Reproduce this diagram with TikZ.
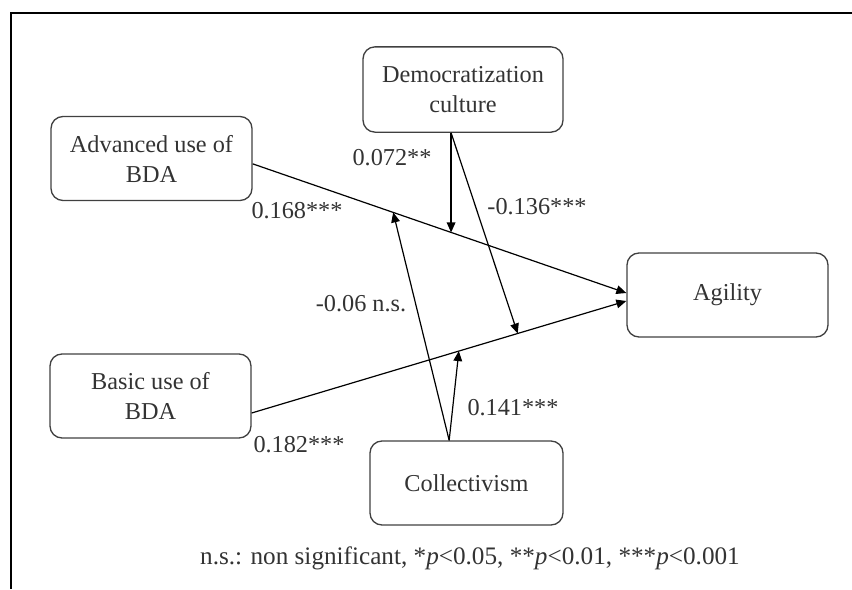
\documentclass[tikz,border=0pt]{standalone}
\usepackage{fontspec}
\setmainfont{Liberation Serif}
\usetikzlibrary{arrows.meta}

\tikzset{
  var/.style={draw=black!75, line width=1pt, rounded corners=9pt, align=center,
    text=black!80, minimum width=150.75pt, minimum height=63pt, inner sep=0pt},
  link/.style={-{Triangle[length=7.5pt,width=6.5pt]}, line width=0.9pt},
  coef/.style={text=black!80, inner sep=0pt}
}

\begin{document}
\begin{tikzpicture}[x=0.75pt, y=-0.75pt, font=\fontsize{18.2}{22.5}\selectfont]
  \useasboundingbox (0,0) rectangle (852,589);
  \draw[line width=1.4pt] (852,13) -- (11,13) -- (11,589);

  \node [var] (adv) at (151.5,158.5) {Advanced use of\\BDA};
  \node [var, minimum width=150pt, minimum height=64pt] (dem) at (463,89.5) {Democratization\\culture};
  \node [var] (agi) at (727.5,295) {Agility};
  \node [var] (bas) at (150.5,396) {Basic use of\\BDA};
  \node [var, minimum width=144.75pt] (col) at (466.5,483) {Collectivism};

  % main paths with the points where the moderators meet them
  \draw [link] ([yshift=-4pt]adv.east) --
    coordinate[pos=0.376] (ma) coordinate[pos=0.531] (md) ([yshift=1.5pt]agi.west);
  \draw [link] ([yshift=-12.75pt]bas.east) --
    coordinate[pos=0.553] (mb) coordinate[pos=0.710] (mc) ([yshift=-4.5pt]agi.west);

  % moderators
  \path [link]
    (dem.south -| md) edge (md)
    (dem.south -| md) edge (mc)
    ([xshift=-13pt]col.north) edge (ma)
    ([xshift=-13pt]col.north) edge (mb);

  \node [coef] (c1) at (392,158) {0.072**};
  \node [coef] (c2) at (537,207) {-0.136***};
  \node [coef] (c3) at (297,211) {0.168***};
  \node [coef] (c4) at (361,304) {-0.06 n.s.};
  \node [coef] (c5) at (513,408) {0.141***};
  \node [coef] (c6) at (299,445) {0.182***};
  \node [coef, font=\fontsize{18.9}{22.5}\selectfont] (note) at (470,558) {n.s.: non significant, *\textit{p}<0.05, **\textit{p}<0.01, ***\textit{p}<0.001};
\end{tikzpicture}
\end{document}
